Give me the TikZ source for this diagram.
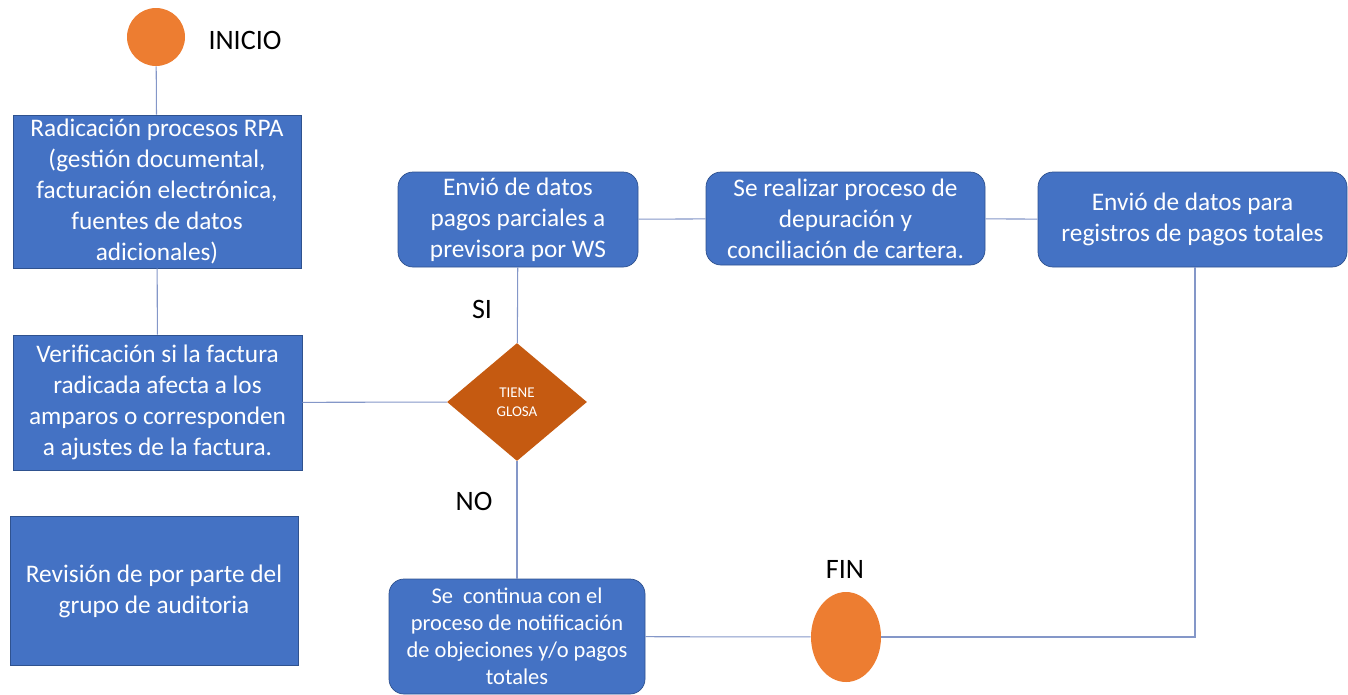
\documentclass[tikz,border=0pt]{standalone}
\usepackage{fontspec}
\setmainfont{Carlito}
\usetikzlibrary{shapes.geometric}

\definecolor{boxblue}{HTML}{4472C4}
\definecolor{boxedge}{HTML}{2F528F}
\definecolor{startorange}{HTML}{ED7D31}
\definecolor{glosaorange}{HTML}{C55A11}
\definecolor{linkblue}{HTML}{8497C8}

\begin{document}
\begin{tikzpicture}[x=0.02cm, y=-0.02cm,
    procbox/.style={draw=boxedge, fill=boxblue, text=white, align=center, inner sep=0pt,
        font=\fontsize{14.4}{17.6}\selectfont},
    roundbox/.style={procbox, rounded corners=15*0.02cm},
    terminal/.style={fill=startorange, inner sep=0pt},
    tag/.style={font=\fontsize{16}{19}\selectfont},
    link/.style={draw=linkblue, line width=0.6pt}]
    \useasboundingbox (0,0) rectangle (1348,694);

    % Start
    \node[terminal, circle, minimum size=58*0.02cm] (inicio) at (156,37) {};
    \node[tag] (inicioLabel) at (245,40) {INICIO};

    % Left column
    \node[procbox, minimum width=288*0.02cm, minimum height=153*0.02cm] (radicacion) at (157,191.5)
        {Radicación procesos RPA\\(gestión documental,\\facturación electrónica,\\fuentes de datos\\adicionales)};
    \node[procbox, minimum width=289*0.02cm, minimum height=135*0.02cm] (verificacion) at (157.5,402.5)
        {Verificación si la factura\\radicada afecta a los\\amparos o corresponden\\a ajustes de la factura.};
    \node[procbox, minimum width=288*0.02cm, minimum height=149*0.02cm] (revision) at (154,591)
        {Revisión de por parte del\\grupo de auditoria};

    % Decision
    \node[diamond, fill=glosaorange, text=white, inner sep=0pt, align=center,
        minimum width=140*0.02cm, minimum height=118*0.02cm,
        font=\fontsize{8.5}{11}\selectfont] (glosa) at (517,402) {TIENE\\GLOSA};

    % Top row
    \node[roundbox, minimum width=240*0.02cm, minimum height=95*0.02cm] (envioParcial) at (518,219.5)
        {Envió de datos\\pagos parciales a\\previsora por WS};
    \node[roundbox, minimum width=279*0.02cm, minimum height=93*0.02cm] (depuracion) at (845.5,218.5)
        {Se realizar proceso de\\depuración y\\conciliación de cartera.};
    \node[roundbox, minimum width=309*0.02cm, minimum height=95*0.02cm] (envioTotal) at (1192.5,219.5)
        {Envió de datos para\\registros de pagos totales};

    % Bottom row
    \node[roundbox, minimum width=256*0.02cm, minimum height=115*0.02cm,
        font=\fontsize{12.8}{15.3}\selectfont] (continua) at (517,636.5)
        {Se\ \ continua con el\\proceso de notificación\\de objeciones y/o pagos\\totales};
    \node[terminal, ellipse, minimum width=70*0.02cm, minimum height=90*0.02cm] (fin) at (846,637) {};
    \node[tag] (finLabel) at (845,569) {FIN};

    % Connectors
    \path[link] (inicio) -- (radicacion);
    \path[link] (radicacion) -- (verificacion);
    \path[link] (glosa) -- (verificacion);
    \path[link] (glosa) -- (envioParcial);
    \path[link] (glosa) -- (continua);
    \path[link] (envioParcial) -- (depuracion);
    \path[link] (depuracion) -- (envioTotal);
    \path[link] (envioTotal.south -| 1195,0) |- (fin);
    \path[link] (continua) -- (fin);

    % Branch labels
    \node[tag] (siLabel) at (482,309) {SI};
    \node[tag] (noLabel) at (474,501) {NO};
\end{tikzpicture}
\end{document}
